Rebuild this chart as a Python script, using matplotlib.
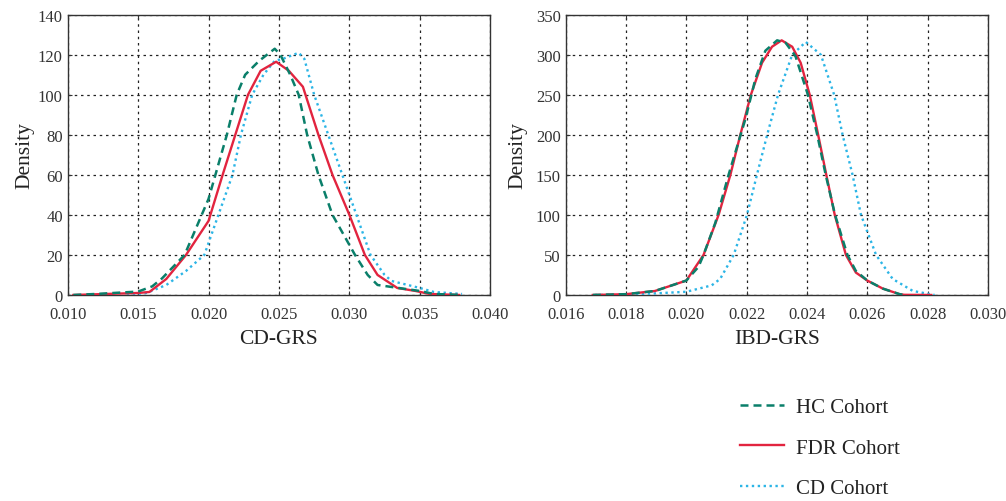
import matplotlib
matplotlib.use("Agg")
import matplotlib.pyplot as plt

plt.rcParams['font.family'] = ['Liberation Serif', 'DejaVu Serif']

# CD-GRS densities (left panel)
cd_hc_x = [0.0104, 0.0120, 0.0150, 0.0160, 0.0167, 0.0183, 0.0200, 0.0213, 0.0220, 0.0226,
           0.0236, 0.0247, 0.0251, 0.0258, 0.0264, 0.0270, 0.0278, 0.0288, 0.0304, 0.0313,
           0.0320, 0.0335, 0.0350, 0.0360, 0.0380]
cd_hc_y = [0, 0.5, 1.7, 4.3, 8.3, 20, 48, 80, 100, 110,
           117, 123, 120, 110, 100, 80, 60, 40, 20, 10,
           5, 3.5, 2, 0.5, 0]

cd_fdr_x = [0.0104, 0.0150, 0.0158, 0.0170, 0.0184, 0.0200, 0.0210, 0.0219, 0.0228, 0.0237,
            0.0248, 0.0257, 0.0267, 0.0278, 0.0288, 0.0300, 0.0311, 0.0320, 0.0334, 0.0347,
            0.0357, 0.0378]
cd_fdr_y = [0, 1, 1.5, 8, 20, 37, 60, 80, 100, 112,
            116.5, 112, 104, 80, 60, 40, 20, 10, 3.5, 2,
            0.5, 0]

cd_cd_x = [0.0142, 0.0156, 0.0170, 0.0184, 0.0197, 0.0207, 0.0217, 0.0223, 0.0231, 0.0239,
           0.0247, 0.0253, 0.0264, 0.0268, 0.0275, 0.0285, 0.0295, 0.0305, 0.0315, 0.0325,
           0.0330, 0.0350, 0.0360, 0.0380]
cd_cd_y = [0, 1, 5, 12, 20, 40, 60, 80, 100, 110,
           117, 118, 121, 118, 100, 80, 60, 40, 20, 10,
           7, 3.5, 1.5, 0.5]

# IBD-GRS densities (right panel)
ibd_hc_x = [0.0169, 0.0180, 0.01896, 0.0200, 0.0204, 0.02057, 0.02096, 0.0214, 0.02196, 0.02229,
            0.02262, 0.02301, 0.02329, 0.02362, 0.02403, 0.02434, 0.02462, 0.02493, 0.02534, 0.02562,
            0.0260, 0.02651, 0.02707, 0.02723]
ibd_hc_y = [0, 1, 5, 18, 35, 50, 90, 150, 220, 270,
            305, 318, 315, 298, 250, 200, 150, 100, 50, 30,
            18, 8, 1, 0]

ibd_fdr_x = [0.0169, 0.0180, 0.01896, 0.0200, 0.02057, 0.02107, 0.02146, 0.02179, 0.02214, 0.02251,
             0.02284, 0.02316, 0.02351, 0.02379, 0.02409, 0.02437, 0.02464, 0.02492, 0.02529, 0.02562,
             0.0260, 0.02651, 0.02707, 0.02723, 0.02812]
ibd_fdr_y = [0, 1, 5, 18, 50, 100, 150, 200, 250, 290,
             310, 318, 310, 290, 250, 200, 150, 100, 50, 28,
             18, 8, 1, 0.2, 0]

ibd_cd_x = [0.01696, 0.0180, 0.01896, 0.0200, 0.02084, 0.02112, 0.02157, 0.02201, 0.02234, 0.02268,
            0.02304, 0.02351, 0.02396, 0.02446, 0.0249, 0.02518, 0.02551, 0.02579, 0.02629, 0.02684,
            0.02751, 0.02823]
ibd_cd_y = [0, 0.5, 2, 4, 12, 20, 50, 100, 150, 200,
            250, 300, 316, 300, 250, 200, 150, 100, 50, 20,
            5, 0]

green = '#0a7f6a'
red = '#e2243f'
blue = '#2cb5e6'

fig = plt.figure(figsize=(10.06, 5.02), dpi=100)
ax1 = fig.add_axes([0.0673, 0.4104, 0.4200, 0.5583])
ax2 = fig.add_axes([0.5623, 0.4104, 0.4198, 0.5583])

for ax, data, xl, xlim, xt, ylim, yt, ypad in [
        (ax1, (cd_hc_x, cd_hc_y, cd_fdr_x, cd_fdr_y, cd_cd_x, cd_cd_y), 'CD-GRS',
         (0.010, 0.040), [0.010, 0.015, 0.020, 0.025, 0.030, 0.035, 0.040],
         (0, 140), range(0, 141, 20), 2.5),
        (ax2, (ibd_hc_x, ibd_hc_y, ibd_fdr_x, ibd_fdr_y, ibd_cd_x, ibd_cd_y), 'IBD-GRS',
         (0.016, 0.030), [0.016, 0.018, 0.020, 0.022, 0.024, 0.026, 0.028, 0.030],
         (0, 350), range(0, 351, 50), 6)]:
    hx, hy, fx, fy, cx, cy = data
    ax.plot(cx, cy, color=blue, lw=1.7, linestyle=(0, (1.0, 1.5)), label='CD Cohort', zorder=3)
    ax.plot(fx, fy, color=red, lw=1.7, label='FDR Cohort', zorder=4)
    ax.plot(hx, hy, color=green, lw=1.8, linestyle=(0, (3.2, 2.0)), label='HC Cohort', zorder=5)
    ax.set_xlim(*xlim)
    ax.set_ylim(*ylim)
    ax.set_xticks(xt)
    ax.set_xticklabels(['%.3f' % v for v in xt])
    ax.set_yticks(list(yt))
    ax.grid(True, color='#222222', linestyle=(0, (2, 3)), linewidth=0.9)
    ax.tick_params(direction='in', top=True, right=True, length=3, labelsize=12,
                   colors='#333333', labelcolor='#333333')
    ax.tick_params(axis='x', pad=8)
    for s in ax.spines.values():
        s.set_color('#333333')
        s.set_linewidth(1.0)
    ax.set_xlabel(xl, fontsize=15.5, color='#222222', labelpad=5)
    ax.set_ylabel('Density', fontsize=15.5, color='#222222', labelpad=ypad)

h, l = ax1.get_legend_handles_labels()
order = [2, 1, 0]
fig.legend([h[i] for i in order], [l[i] for i in order], loc='center left',
           bbox_to_anchor=(0.736, 0.106), frameon=False, fontsize=15,
           handlelength=2.1, handletextpad=0.55, labelspacing=1.0,
           borderpad=0, borderaxespad=0, labelcolor='#222222')

fig.savefig('out.png', dpi=100)
